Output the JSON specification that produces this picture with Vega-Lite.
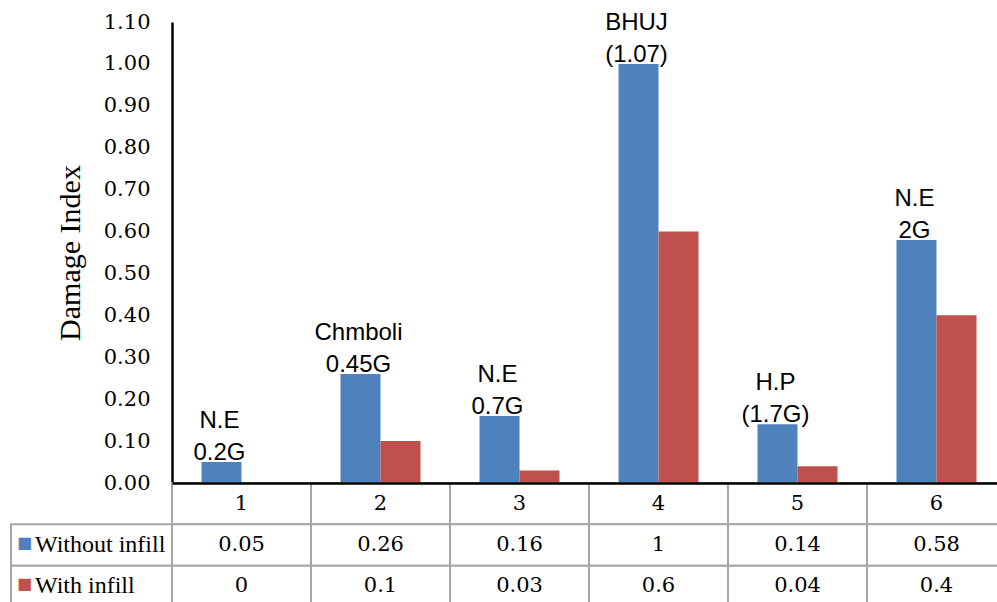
{
  "$schema": "https://vega.github.io/schema/vega-lite/v6.json",
  "background": "white",
  "padding": {"left": 10, "top": 10, "right": 0, "bottom": 0},
  "config": {"view": {"stroke": null}},
  "bounds": "flush",
  "align": "each",
  "spacing": 0,
  "columns": 2,
  "datasets": {
    "damage": [
      {"case": "1", "series": "Without infill", "value": 0.05, "note": "N.E\n0.2G"},
      {"case": "1", "series": "With infill", "value": 0},
      {"case": "2", "series": "Without infill", "value": 0.26, "note": "Chmboli\n0.45G"},
      {"case": "2", "series": "With infill", "value": 0.1},
      {"case": "3", "series": "Without infill", "value": 0.16, "note": "N.E\n0.7G"},
      {"case": "3", "series": "With infill", "value": 0.03},
      {"case": "4", "series": "Without infill", "value": 1, "note": "BHUJ\n(1.07)"},
      {"case": "4", "series": "With infill", "value": 0.6},
      {"case": "5", "series": "Without infill", "value": 0.14, "note": "H.P\n(1.7G)"},
      {"case": "5", "series": "With infill", "value": 0.04},
      {"case": "6", "series": "Without infill", "value": 0.58, "note": "N.E\n2G"},
      {"case": "6", "series": "With infill", "value": 0.4}
    ]
  },
  "concat": [
    {
      "width": 161,
      "height": 461,
      "data": {"values": [{}]},
      "mark": {"type": "rect", "opacity": 0}
    },
    {
      "width": 834,
      "height": 461,
      "data": {"name": "damage"},
      "encoding": {
        "x": {"field": "case", "type": "nominal", "sort": null, "scale": {"paddingInner": 0, "paddingOuter": 0}, "axis": null},
        "xOffset": {"field": "series", "type": "nominal", "sort": null, "scale": {"domain": ["Without infill", "With infill"], "paddingInner": 0, "paddingOuter": 0.7375}},
        "y": {
          "field": "value",
          "type": "quantitative",
          "scale": {"domain": [0, 1.1], "nice": false, "zero": true},
          "axis": {
            "values": [0, 0.1, 0.2, 0.3, 0.4, 0.5, 0.6, 0.7, 0.8, 0.9, 1, 1.1],
            "format": ".2f",
            "grid": false,
            "ticks": false,
            "tickSize": 0,
            "domainColor": "black",
            "domainWidth": 2.5,
            "labelFont": "DejaVu Serif",
            "labelFontSize": 21,
            "labelColor": "black",
            "labelPadding": 22,
            "title": "Damage Index",
            "titleFont": "Liberation Serif",
            "titleFontSize": 30,
            "titleFontWeight": "normal",
            "titleColor": "black",
            "titlePadding": 18
          }
        }
      },
      "layer": [
        {
          "mark": {"type": "bar"},
          "encoding": {
            "color": {"field": "series", "type": "nominal", "scale": {"domain": ["Without infill", "With infill"], "range": ["#4F81BD", "#C0504D"]}, "legend": null}
          }
        },
        {
          "transform": [{"filter": "datum.note != null"}],
          "mark": {"type": "text", "align": "center", "baseline": "bottom", "dx": -2, "dy": -29, "lineBreak": "\n", "lineHeight": 32, "font": "Liberation Sans", "fontSize": 24, "color": "black"},
          "encoding": {"text": {"field": "note"}}
        }
      ]
    },
    {
      "width": 161,
      "height": 124,
      "data": {"name": "damage"},
      "transform": [
        {"filter": "datum.case == '1'"},
        {"calculate": "datum.series == 'With infill' ? '\u00a0' + datum.series : datum.series", "as": "rowLabel"}
      ],
      "encoding": {
        "y": {"field": "series", "type": "nominal", "scale": {"domain": ["hdr", "Without infill", "With infill"], "paddingInner": 0, "paddingOuter": 0}, "axis": null}
      },
      "layer": [
        {"mark": {"type": "rect", "fill": "white", "stroke": "#A6A6A6", "strokeWidth": 2}},
        {
          "mark": {"type": "text", "text": "\u25a0", "align": "center", "dx": -67, "dy": -2, "font": "DejaVu Sans", "fontSize": 16},
          "encoding": {"color": {"field": "series", "type": "nominal", "scale": {"domain": ["Without infill", "With infill"], "range": ["#4F81BD", "#C0504D"]}, "legend": null}}
        },
        {
          "mark": {"type": "text", "align": "left", "dx": -56.5, "font": "Liberation Serif", "fontSize": 24, "color": "black"},
          "encoding": {"text": {"field": "rowLabel"}}
        }
      ]
    },
    {
      "width": 834,
      "height": 124,
      "data": {"name": "damage"},
      "encoding": {
        "x": {
          "field": "case", "type": "nominal", "sort": null,
          "scale": {"paddingInner": 0, "paddingOuter": 0},
          "axis": {"orient": "top", "labels": false, "ticks": false, "grid": false, "title": null, "domainColor": "black", "domainWidth": 2.5, "zindex": 1}
        }
      },
      "layer": [
        {
          "transform": [{"filter": "datum.series == 'Without infill'"}],
          "mark": {"type": "rect", "fill": "white", "stroke": "#A6A6A6", "strokeWidth": 2},
          "encoding": {"y": {"datum": "hdr", "type": "nominal", "scale": {"domain": ["hdr", "Without infill", "With infill"], "paddingInner": 0, "paddingOuter": 0}, "axis": null}}
        },
        {
          "mark": {"type": "rect", "fill": "white", "stroke": "#A6A6A6", "strokeWidth": 2},
          "encoding": {"y": {"field": "series", "type": "nominal", "scale": {"domain": ["hdr", "Without infill", "With infill"], "paddingInner": 0, "paddingOuter": 0}, "axis": null}}
        },
        {
          "transform": [{"filter": "datum.series == 'Without infill'"}],
          "mark": {"type": "text", "font": "DejaVu Serif", "fontSize": 21, "color": "black"},
          "encoding": {
            "y": {"datum": "hdr", "type": "nominal", "scale": {"domain": ["hdr", "Without infill", "With infill"], "paddingInner": 0, "paddingOuter": 0}, "axis": null},
            "text": {"field": "case"}
          }
        },
        {
          "mark": {"type": "text", "font": "DejaVu Serif", "fontSize": 21, "color": "black"},
          "encoding": {
            "y": {"field": "series", "type": "nominal", "scale": {"domain": ["hdr", "Without infill", "With infill"], "paddingInner": 0, "paddingOuter": 0}, "axis": null},
            "text": {"field": "value", "type": "nominal"}
          }
        }
      ]
    }
  ]
}
